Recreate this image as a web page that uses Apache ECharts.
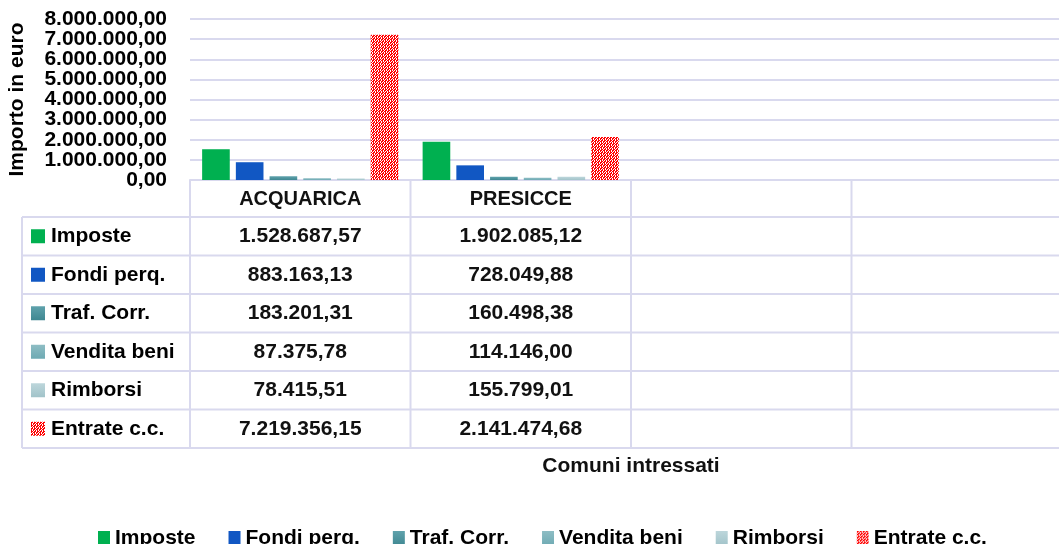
<!DOCTYPE html>
<html>
<head>
<meta charset="utf-8">
<script src="https://cdn.jsdelivr.net/npm/echarts@6/dist/echarts.min.js"></script>
<style>
  html, body { margin: 0; padding: 0; background: #ffffff; }
  #chart { width: 1059px; height: 544px; }
</style>
</head>
<body>
<div id="chart"></div>
<script>
// Categories (municipalities) and revenue items, in euro
const categories = ['ACQUARICA', 'PRESICCE', '', ''];
const seriesNames = ['Imposte', 'Fondi perq.', 'Traf. Corr.', 'Vendita beni', 'Rimborsi', 'Entrate c.c.'];
const imposte = [1528687.57, 1902085.12];
const fondiPerq = [883163.13, 728049.88];
const trafCorr = [183201.31, 160498.38];
const venditaBeni = [87375.78, 114146.00];
const rimborsi = [78415.51, 155799.01];
const entrateCC = [7219356.15, 2141474.68];

// Value axis range and its tick values
const yMin = 0;
const yMax = 8000000;
const yStep = 1000000;
const yTicks = [0, 1000000, 2000000, 3000000, 4000000, 5000000, 6000000, 7000000, 8000000];

const FONT = '"Liberation Sans", Arial, sans-serif';
const GRID_COLOR = '#d9d9ee';

// Italian number format: 1.234.567,89
function fmtIt(v) {
  const parts = Number(v).toFixed(2).split('.');
  return parts[0].replace(/\B(?=(\d{3})+(?!\d))/g, '.') + ',' + parts[1];
}

// Red checker fill for "Entrate c.c."
function makeChecker() {
  const c = document.createElement('canvas');
  c.width = 6; c.height = 6;
  const g = c.getContext('2d');
  g.fillStyle = '#ffffff';
  g.fillRect(0, 0, 6, 6);
  g.fillStyle = '#ff0000';
  const cells = [
    'RR.RR.',
    'R.R.R.',
    '.RR.RR',
    'RR.RR.',
    '.R.R.R',
    '.RR.RR'
  ];
  for (let y = 0; y < 6; y++) {
    for (let x = 0; x < 6; x++) {
      if (cells[y][x] === 'R') g.fillRect(x, y, 1, 1);
    }
  }
  return c;
}
const checker = { image: makeChecker(), repeat: 'repeat' };

function vgrad(top, bottom) {
  return new echarts.graphic.LinearGradient(0, 0, 0, 1, [
    { offset: 0, color: top }, { offset: 1, color: bottom }
  ]);
}

const fills = [
  '#00b050',
  '#1157c3',
  vgrad('#5fa2ac', '#3f8791'),
  vgrad('#8ebdc4', '#6eaab3'),
  vgrad('#bdd6db', '#a1c3c9'),
  checker
];
const seriesData = [imposte, fondiPerq, trafCorr, venditaBeni, rimborsi, entrateCC];

const chart = echarts.init(document.getElementById('chart'), null, { renderer: 'canvas' });

chart.setOption({
  animation: false,
  backgroundColor: '#ffffff',
  textStyle: { fontFamily: FONT },
  grid: { left: 190, right: -13, top: 19, bottom: 364, outerBoundsMode: 'none', containLabel: false },
  legend: {
    data: seriesNames,
    left: 93,
    top: 523,
    itemWidth: 12,
    itemHeight: 15,
    itemGap: 33,
    icon: 'rect',
    textStyle: { fontFamily: FONT, fontWeight: 'bold', fontSize: 21, color: '#000' }
  },
  xAxis: {
    type: 'category',
    data: categories,
    axisLine: { show: true, lineStyle: { color: GRID_COLOR, width: 2 } },
    axisTick: { show: false },
    axisLabel: {
      interval: 0, margin: 9, hideOverlap: false,
      fontFamily: FONT, fontWeight: 'bold', fontSize: 20, color: '#111'
    },
    name: 'Comuni intressati',
    nameLocation: 'middle',
    nameGap: 276,
    nameTextStyle: { fontFamily: FONT, fontWeight: 'bold', fontSize: 21, color: '#111' }
  },
  yAxis: {
    type: 'value',
    min: yMin, max: yMax, interval: yStep,
    axisLine: { show: false },
    axisTick: { show: false },
    splitLine: { lineStyle: { color: GRID_COLOR, width: 2 } },
    axisLabel: { show: false },
    name: 'Importo in euro',
    nameLocation: 'middle',
    nameRotate: 90,
    nameGap: 162,
    nameTextStyle: { fontFamily: FONT, fontWeight: 'bold', fontSize: 21, color: '#000' }
  },
  series: seriesNames.map((name, i) => ({
    name: name,
    type: 'bar',
    data: seriesData[i],
    barGap: '22%',
    barCategoryGap: '11%',
    itemStyle: { color: fills[i] }
  }))
});

// Tick labels of the value axis (packed tightly, so drawn without overlap culling)
// and the data table under the category axis, both placed through the axes' scales
function drawExtras() {
  const els = [];
  const gridLeft = chart.convertToPixel({ xAxisIndex: 0 }, 0) - (chart.convertToPixel({ xAxisIndex: 0 }, 1) - chart.convertToPixel({ xAxisIndex: 0 }, 0)) / 2;

  yTicks.forEach(v => {
    els.push({
      type: 'text', x: gridLeft - 23, y: chart.convertToPixel({ yAxisIndex: 0 }, v),
      style: { text: fmtIt(v), font: 'bold 21px ' + FONT, fill: '#000', align: 'right', verticalAlign: 'middle' },
      silent: true
    });
  });

  const axisY = chart.convertToPixel({ yAxisIndex: 0 }, 0);
  const centers = categories.map((c, i) => chart.convertToPixel({ xAxisIndex: 0 }, i));
  const w = centers[1] - centers[0];
  const bounds = [];
  for (let i = 0; i <= categories.length; i++) bounds.push(centers[0] - w / 2 + i * w);
  const headerBottom = axisY + 37;
  const rowH = 38.5;
  const tableLeft = 22;
  const tableBottom = headerBottom + rowH * seriesNames.length;
  const line = { stroke: GRID_COLOR, lineWidth: 2 };

  bounds.forEach(x => {
    els.push({ type: 'line', shape: { x1: x, y1: axisY, x2: x, y2: tableBottom }, style: line, silent: true });
  });
  els.push({ type: 'line', shape: { x1: tableLeft, y1: headerBottom, x2: tableLeft, y2: tableBottom }, style: line, silent: true });
  for (let r = 0; r <= seriesNames.length; r++) {
    const y = headerBottom + r * rowH;
    els.push({ type: 'line', shape: { x1: tableLeft, y1: y, x2: bounds[bounds.length - 1], y2: y }, style: line, silent: true });
  }

  seriesNames.forEach((name, r) => {
    const cy = headerBottom + r * rowH + rowH / 2;
    els.push({ type: 'rect', shape: { x: 31, y: cy - 7, width: 14, height: 14 }, style: { fill: fills[r] }, silent: true });
    els.push({
      type: 'text', x: 51, y: cy,
      style: { text: name, font: 'bold 21px ' + FONT, fill: '#000', align: 'left', verticalAlign: 'middle' },
      silent: true
    });
    seriesData[r].forEach((v, c) => {
      els.push({
        type: 'text', x: centers[c], y: cy,
        style: { text: fmtIt(v), font: 'bold 21px ' + FONT, fill: '#111', align: 'center', verticalAlign: 'middle' },
        silent: true
      });
    });
  });

  chart.setOption({ graphic: { elements: els } });
}
drawExtras();
</script>
</body>
</html>
